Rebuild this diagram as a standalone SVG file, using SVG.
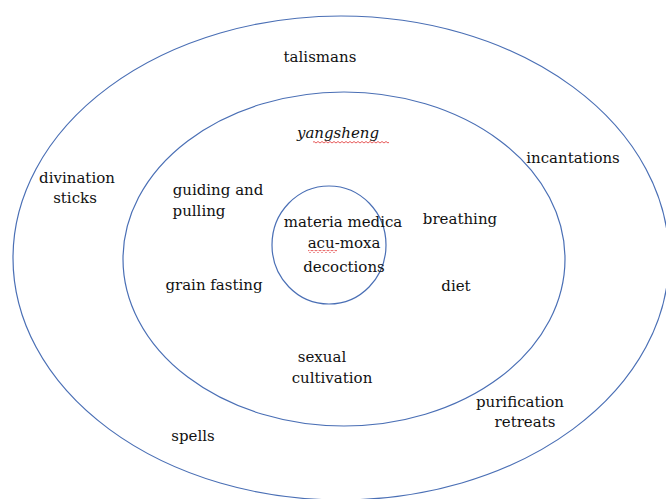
<svg xmlns="http://www.w3.org/2000/svg" width="666" height="499" viewBox="0 0 666 499">
<defs>
<style>
.ring{fill:none;stroke:#4a6fb5;stroke-width:1.2}
text{font-family:"DejaVu Serif","Liberation Serif",serif;font-size:15px;fill:#111;text-anchor:middle}
.sq{fill:none;stroke:#e03030;stroke-width:0.9}
</style>
<pattern id="wave" width="4" height="3" patternUnits="userSpaceOnUse"><path d="M0,2 L2,0.5 L4,2" fill="none" stroke="#e03030" stroke-width="0.8"/></pattern>
</defs>
<g id="outer"><ellipse class="ring" cx="341" cy="258" rx="328" ry="242"/>
<text x="320" y="62">talismans</text>
<text x="573" y="163">incantations</text>
<text x="77" y="183">divination</text>
<text x="75" y="203">sticks</text>
<text x="520" y="407">purification</text>
<text x="525" y="427">retreats</text>
<text x="193" y="441">spells</text>
</g>
<g id="middle"><ellipse class="ring" cx="344" cy="259" rx="221" ry="167"/>
<text x="338" y="138" font-style="italic">yangsheng</text>
<rect x="313" y="141" width="76" height="3" fill="url(#wave)"/>
<text x="218" y="195">guiding and</text>
<text x="199" y="216">pulling</text>
<text x="460" y="224">breathing</text>
<text x="214" y="290">grain fasting</text>
<text x="456" y="291">diet</text>
<text x="322" y="362">sexual</text>
<text x="332" y="383">cultivation</text>
</g>
<g id="inner"><ellipse class="ring" cx="329" cy="245" rx="57" ry="59"/>
<text x="343" y="227">materia medica</text>
<text x="344" y="248">acu-moxa</text>
<rect x="308" y="250" width="29" height="3" fill="url(#wave)"/>
<text x="344" y="272">decoctions</text>
</g>
<g id="connectors"></g>
</svg>
